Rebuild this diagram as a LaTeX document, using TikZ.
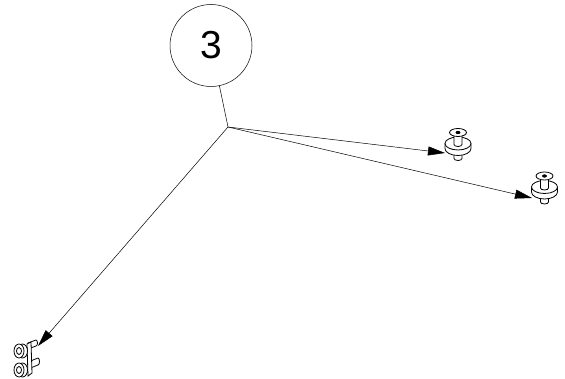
\documentclass[tikz,border=0pt]{standalone}
\usepackage{fontspec}
\setmainfont{Liberation Sans}
\usetikzlibrary{arrows.meta}
\tikzset{
  leader/.style={draw, line width=0.5pt, -{Stealth[length=17pt,width=9pt,inset=0pt]}},
  part/.style={draw, line width=0.8pt, fill=white},
  mount/.pic={
    \draw[part] (-4,14) -- (-4,21) arc[start angle=180, end angle=0, x radius=4, y radius=2] -- (4,14);
    \draw[part] (-13,6) -- (-13,11) arc[start angle=180, end angle=0, x radius=13, y radius=7] -- (13,6);
    \draw[part] (0,6) ellipse[x radius=13, y radius=6.5];
    \draw[part] (-4,-6) -- (-4,7) arc[start angle=180, end angle=0, x radius=4, y radius=2] -- (4,-6);
    \draw[part] (0,-5) ellipse[x radius=8.5, y radius=4];
    \draw[line width=0.8pt, fill=black] (0,-5) ellipse[x radius=2, y radius=1.2];
  },
  bolt/.pic={
    \draw[part] (3.5,0) ellipse[x radius=5, y radius=7];
    \draw[part] (0,0) ellipse[x radius=5, y radius=7];
    \draw[part] (0,0) ellipse[x radius=2.5, y radius=3.5];
  }
}
\begin{document}
\begin{tikzpicture}[x=1pt, y=-1pt]
\useasboundingbox (0,0) rectangle (565,379);
% balloon
\node[draw, circle, line width=0.5pt, minimum size=82pt, inner sep=0pt, font=\fontsize{39}{39}\selectfont] (B3) at (211,45.5) {3};
\coordinate (Hub) at (228,127);
% parts
\pic at (458,137.5) {mount};
\pic at (544.5,181) {mount};
% clamp
\draw[part] (28,343) -- (36,340) arc[start angle=-90, end angle=90, x radius=1.5, y radius=3] -- (28,349) -- cycle;
\draw[part] (28,362) -- (38,358) arc[start angle=-90, end angle=90, x radius=1.5, y radius=3.5] -- (28,369) -- cycle;
\draw[part] (27,344) -- (31,342) -- (32,373) -- (28,376) -- cycle;
\pic at (19,351) {bolt};
\pic at (19,370) {bolt};
\coordinate (Tip1) at (445,153);
\coordinate (Tip2) at (532,198);
\coordinate (Tip3) at (38,346);
% leaders
\draw[line width=0.5pt] (B3) -- (Hub);
\draw[leader] (Hub) -- (Tip1);
\draw[leader] (Hub) -- (Tip2);
\draw[leader] (Hub) -- (Tip3);
\end{tikzpicture}
\end{document}
